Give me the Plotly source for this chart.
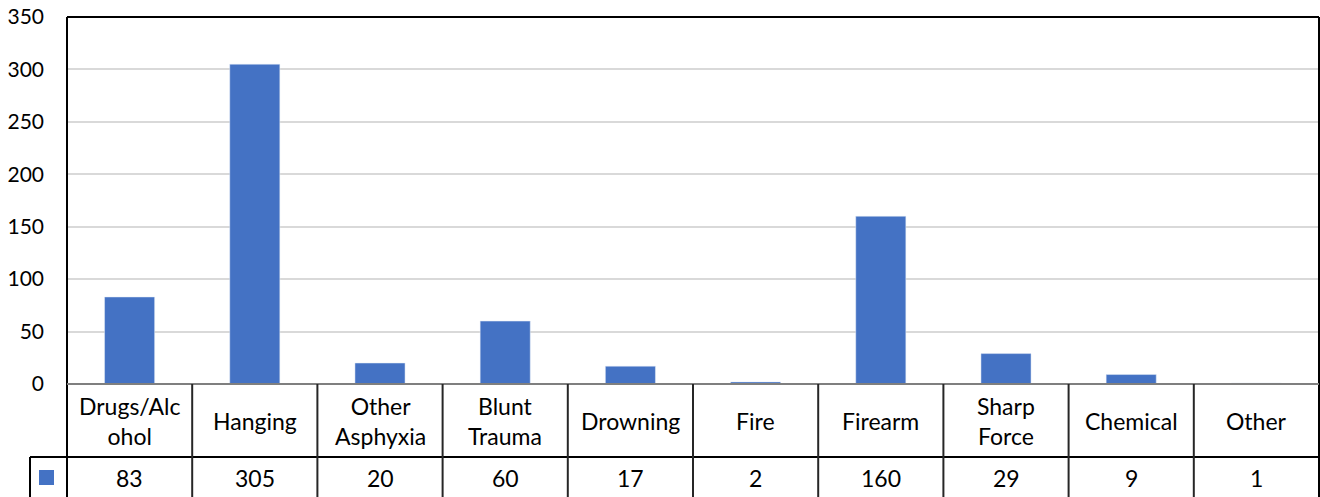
import plotly.graph_objects as go

categories = ["Drugs/Alc<br>ohol", "Hanging", "Other<br>Asphyxia", "Blunt<br>Trauma", "Drowning",
              "Fire", "Firearm", "Sharp<br>Force", "Chemical", "Other"]
values = [83, 305, 20, 60, 17, 2, 160, 29, 9, 1]
y_ticks = [0, 50, 100, 150, 200, 250, 300, 350]

BAR = "#4472C4"
FONT = "Lato"
W, H = 1320, 497
L, R, T, B = 67, 1, 17, 113
plot_h = H - T - B

def py(px):
    # pixel row (from top of page) -> paper y
    return (H - B - px) / plot_h

n = len(values)
xs = list(range(n))

fig = go.Figure(go.Bar(x=xs, y=values, marker_color=BAR, width=0.4))

shapes = []
line_dark = dict(color="#000000", width=2)
line_grey = dict(color="#7F7F7F", width=2)

# plot frame
shapes.append(dict(type="line", xref="paper", yref="paper", x0=0, x1=1, y0=1, y1=1, line=line_dark))
shapes.append(dict(type="line", xref="paper", yref="paper", x0=1, x1=1, y0=py(497), y1=1, line=line_dark))
shapes.append(dict(type="line", xref="paper", yref="paper", x0=0, x1=0, y0=py(497), y1=1, line=line_dark))
shapes.append(dict(type="line", xref="paper", yref="paper", x0=0, x1=1, y0=0, y1=0, line=line_grey))

# data table grid
shapes.append(dict(type="line", xref="paper", yref="paper", x0=(30 - L) / (W - L - R), x1=1,
                   y0=py(457), y1=py(457), line=line_dark))
shapes.append(dict(type="line", xref="paper", yref="paper", x0=(30 - L) / (W - L - R),
                   x1=(30 - L) / (W - L - R), y0=py(497), y1=py(457), line=line_dark))
for i in range(1, n):
    shapes.append(dict(type="line", xref="x", yref="paper", x0=i - 0.5, x1=i - 0.5,
                       y0=py(497), y1=0, line=dict(color="#262626", width=2)))

# legend key in table
shapes.append(dict(type="rect", xref="paper", yref="paper",
                   x0=(39 - L) / (W - L - R), x1=(54 - L) / (W - L - R),
                   y0=py(485), y1=py(470), fillcolor=BAR, line=dict(width=0)))

annotations = []
for i, (c, v) in enumerate(zip(categories, values)):
    annotations.append(dict(x=i, y=py(421), xref="x", yref="paper", text=c, showarrow=False,
                            font=dict(family=FONT, size=23, color="#000000"), yanchor="middle"))
    annotations.append(dict(x=i, y=py(478), xref="x", yref="paper", text=str(v), showarrow=False,
                            font=dict(family=FONT, size=23, color="#000000"), yanchor="middle"))

fig.update_layout(
    width=W, height=H,
    margin=dict(l=L, r=R, t=T, b=B),
    paper_bgcolor="white", plot_bgcolor="white",
    showlegend=False,
    bargap=0.6,
    xaxis=dict(range=[-0.5, n - 0.5], showticklabels=False, showgrid=False, zeroline=False,
               showline=False, fixedrange=True),
    yaxis=dict(range=[0, 350], tickvals=y_ticks, showgrid=True, gridcolor="#D9D9D9", gridwidth=2,
               zeroline=False, showline=False, ticks="", ticklabelstandoff=22,
               tickfont=dict(family=FONT, size=21, color="#000000")),
    shapes=shapes,
    annotations=annotations,
)

fig.write_html("out.html")
